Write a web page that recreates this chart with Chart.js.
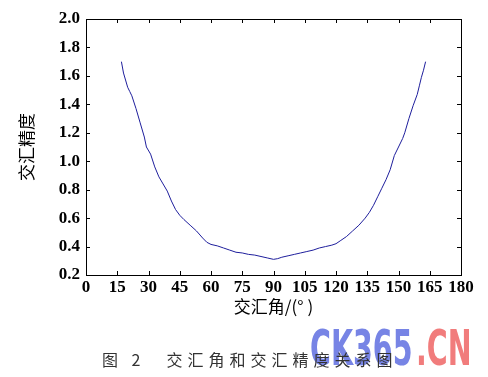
<!DOCTYPE html>
<html>
<head>
<meta charset="utf-8">
<script src="https://cdn.jsdelivr.net/npm/chart.js@4.4.0/dist/chart.umd.min.js"></script>
<style>
  body { margin: 0; background: #fff; }
  canvas { display: block; }
</style>
</head>
<body>
<canvas id="angleChart" width="488" height="377"></canvas>
<script>
// intersection angle (deg) vs intersection precision
const angles = [17, 18, 20, 21, 22, 24, 26, 28, 29, 31, 33, 35, 37, 39, 41, 43, 45, 47, 50, 53, 56, 58, 60,
  63, 66, 69, 72, 75, 78, 81, 84, 87, 90, 92, 94, 97, 100, 103, 106, 109, 112, 115, 118, 120,
  122, 125, 128, 131, 134, 136, 138, 140, 142, 144, 146, 148, 150, 152, 153, 155, 157, 159, 160, 161, 162, 163];
const precision = [1.70, 1.62, 1.52, 1.49, 1.46, 1.37, 1.27, 1.17, 1.10, 1.05, 0.96, 0.89, 0.84, 0.79, 0.72, 0.66, 0.62, 0.59, 0.55, 0.51, 0.46, 0.43, 0.415,
  0.405, 0.39, 0.375, 0.36, 0.355, 0.345, 0.34, 0.33, 0.32, 0.31, 0.315, 0.325, 0.335, 0.345, 0.355, 0.365, 0.375, 0.39, 0.40, 0.41, 0.42,
  0.44, 0.47, 0.51, 0.55, 0.60, 0.64, 0.69, 0.75, 0.81, 0.87, 0.94, 1.04, 1.10, 1.16, 1.20, 1.30, 1.39, 1.47, 1.53, 1.59, 1.64, 1.70];

const xTitle = '交汇角/(° )';
const yTitle = '交汇精度';
const caption = '图 2　交汇角和交汇精度关系图';

const tickFont = { family: 'Liberation Serif', size: 17, weight: 'bold' };
const cjkFont = { family: 'Noto Sans CJK SC', size: 17, weight: 'normal' };

// box outline + inward tick marks on all four sides (MATLAB style)
const frame = {
  id: 'frame',
  afterDraw(chart) {
    const { ctx, chartArea: a, scales: { x, y } } = chart;
    const len = 4;
    ctx.save();
    ctx.strokeStyle = '#000';
    ctx.lineWidth = 1;
    ctx.strokeRect(Math.round(a.left) + 0.5, Math.round(a.top) + 0.5,
      Math.round(a.right - a.left), Math.round(a.bottom - a.top));
    ctx.beginPath();
    x.ticks.forEach(t => {
      const px = Math.round(x.getPixelForValue(t.value)) + 0.5;
      ctx.moveTo(px, a.bottom); ctx.lineTo(px, a.bottom - len);
      ctx.moveTo(px, a.top); ctx.lineTo(px, a.top + len);
    });
    y.ticks.forEach(t => {
      const py = Math.round(y.getPixelForValue(t.value)) + 0.5;
      ctx.moveTo(a.left, py); ctx.lineTo(a.left + len, py);
      ctx.moveTo(a.right, py); ctx.lineTo(a.right - len, py);
    });
    ctx.stroke();

    // watermark
    ctx.save();
    ctx.translate(310, 365);
    ctx.scale(0.57, 1);
    ctx.font = 'bold 50px "DejaVu Sans"';
    ctx.textBaseline = 'alphabetic';
    ctx.fillStyle = 'rgba(95,110,225,0.85)';
    ctx.fillText('CK365', 0, 0);
    const w = ctx.measureText('CK365').width;
    ctx.fillStyle = 'rgba(240,110,110,0.9)';
    ctx.fillText('.CN', w + 6, 0);
    ctx.restore();

    // figure caption
    ctx.font = '16px "Noto Sans CJK SC"';
    ctx.letterSpacing = '5px';
    ctx.fillStyle = '#333';
    ctx.textBaseline = 'middle';
    ctx.textAlign = 'left';
    ctx.fillText(caption, 102, 360);
    ctx.restore();
  }
};

new Chart(document.getElementById('angleChart'), {
  type: 'line',
  data: {
    datasets: [{
      data: angles.map((a, i) => ({ x: a, y: precision[i] })),
      borderColor: '#1e1e9c',
      borderWidth: 1,
      pointRadius: 0,
      tension: 0,
      fill: false
    }]
  },
  options: {
    responsive: false,
    animation: false,
    layout: { padding: { left: 0, right: 27, top: 19, bottom: 0 } },
    plugins: { legend: { display: false }, tooltip: { enabled: false } },
    scales: {
      x: {
        type: 'linear',
        min: 0,
        max: 180,
        grid: { display: false, tickLength: 0 },
        border: { display: false },
        ticks: { stepSize: 15, padding: 2, color: '#000', font: tickFont, maxRotation: 0, autoSkip: false },
        title: { display: true, text: xTitle, color: '#000', font: cjkFont, padding: { top: 0, bottom: 60 } },
        afterFit(scale) { scale.height = 102; }
      },
      y: {
        min: 0.2,
        max: 2.0,
        grid: { display: false, tickLength: 0 },
        border: { display: false },
        ticks: { stepSize: 0.2, padding: 6, color: '#000', font: tickFont, callback: v => v.toFixed(1) },
        title: { display: true, text: yTitle, color: '#000', font: cjkFont, padding: { top: 16, bottom: 0 } },
        afterFit(scale) { scale.width = 86; }
      }
    }
  },
  plugins: [frame]
});
</script>
</body>
</html>
